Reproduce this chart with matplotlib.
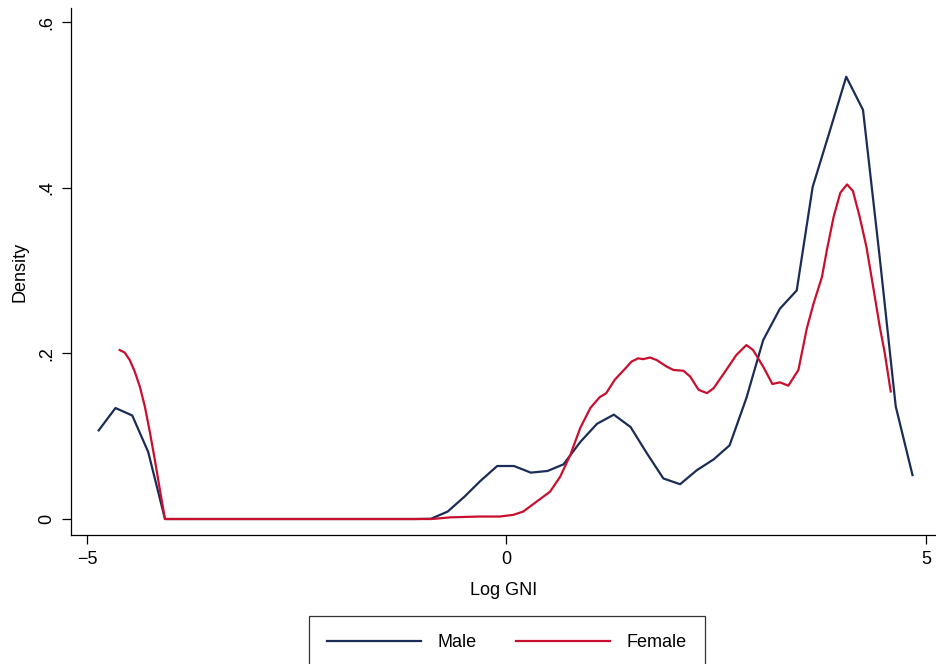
import matplotlib
matplotlib.use('Agg')
import matplotlib.pyplot as plt

# kernel density of log GNI
male_x = [-4.86, -4.66, -4.46, -4.27, -4.07, -3.87, -3.67, -3.47, -3.28, -3.08,
          -2.88, -2.68, -2.48, -2.29, -2.09, -1.89, -1.69, -1.49, -1.30, -1.10,
          -0.90, -0.70, -0.50, -0.31, -0.11, 0.09, 0.29, 0.49, 0.68, 0.88,
          1.08, 1.28, 1.48, 1.67, 1.87, 2.07, 2.27, 2.47, 2.66, 2.86,
          3.06, 3.26, 3.46, 3.65, 3.85, 4.05, 4.25, 4.45, 4.64, 4.84]
male_y = [0.107, 0.134, 0.125, 0.081, 0.0, 0.0, 0.0, 0.0, 0.0, 0.0,
          0.0, 0.0, 0.0, 0.0, 0.0, 0.0, 0.0, 0.0, 0.0, 0.0,
          0.0003, 0.009, 0.027, 0.046, 0.064, 0.064, 0.056, 0.058, 0.066, 0.093,
          0.115, 0.126, 0.111, 0.080, 0.049, 0.042, 0.059, 0.072, 0.089, 0.146,
          0.216, 0.254, 0.276, 0.401, 0.467, 0.534, 0.494, 0.315, 0.136, 0.053]

female_x = [-4.61, -4.55, -4.49, -4.43, -4.37, -4.31, -4.25, -4.19, -4.13, -4.07,
            -0.89, -0.67, -0.32, -0.08, 0.08, 0.20, 0.36, 0.52, 0.64, 0.76,
            0.88, 1.00, 1.11, 1.19, 1.29, 1.41, 1.49, 1.57, 1.63, 1.71,
            1.79, 1.91, 1.99, 2.11, 2.19, 2.29, 2.39, 2.47, 2.62, 2.74,
            2.86, 2.94, 3.06, 3.17, 3.26, 3.36, 3.48, 3.58, 3.66, 3.76,
            3.82, 3.90, 3.98, 4.06, 4.13, 4.21, 4.29, 4.37, 4.45, 4.51,
            4.58]
female_y = [0.204, 0.201, 0.192, 0.178, 0.160, 0.136, 0.105, 0.071, 0.035, 0.0,
            0.0, 0.002, 0.003, 0.003, 0.005, 0.009, 0.021, 0.033, 0.051, 0.077,
            0.110, 0.134, 0.147, 0.152, 0.168, 0.181, 0.190, 0.194, 0.193, 0.195,
            0.192, 0.184, 0.180, 0.179, 0.172, 0.156, 0.152, 0.158, 0.180, 0.198,
            0.210, 0.204, 0.184, 0.163, 0.165, 0.161, 0.180, 0.230, 0.260, 0.292,
            0.325, 0.365, 0.394, 0.404, 0.396, 0.365, 0.329, 0.281, 0.232, 0.200,
            0.154]

x_ticks = [-5, 0, 5]
y_ticks = [0, 0.2, 0.4, 0.6]
y_ticklabels = ['0', '.2', '.4', '.6']

navy = '#1b2c56'
red = '#c8102e'

plt.rcParams['font.family'] = ['Liberation Sans', 'DejaVu Sans']

fig = plt.figure(figsize=(9.36, 6.64), dpi=100)
ax = fig.add_axes([71 / 936, (664 - 535) / 664, 1 - 71 / 936, (535 - 8) / 664])

ax.plot(male_x, male_y, color=navy, linewidth=1.6, label='Male')
ax.plot(female_x, female_y, color=red, linewidth=1.6, label='Female')

ax.set_xlim(-5.19, 5.12)
ax.set_ylim(-0.0193, 0.617)

ax.set_xticks(x_ticks)
ax.set_xticklabels(['\u22125', '0', '5'])
ax.set_yticks(y_ticks)
ax.set_yticklabels(y_ticklabels, rotation=90, va='center')
ax.tick_params(length=6.5, width=0.9, labelsize=13, pad=5)

for side in ['top', 'right']:
    ax.spines[side].set_visible(False)
for side in ['left', 'bottom']:
    ax.spines[side].set_linewidth(0.9)

ax.set_xlabel('Log GNI', fontsize=13, labelpad=10)
ax.set_ylabel('Density', fontsize=13, labelpad=7)

leg = fig.legend(loc='upper center', bbox_to_anchor=(507 / 936, (664 - 607) / 664),
                 ncol=2, fontsize=13, frameon=True, fancybox=False,
                 edgecolor='black', handlelength=5.2, handletextpad=0.9,
                 columnspacing=2.2, borderpad=1.0)
leg.get_frame().set_linewidth(0.9)

plt.savefig('out.png', dpi=100)
